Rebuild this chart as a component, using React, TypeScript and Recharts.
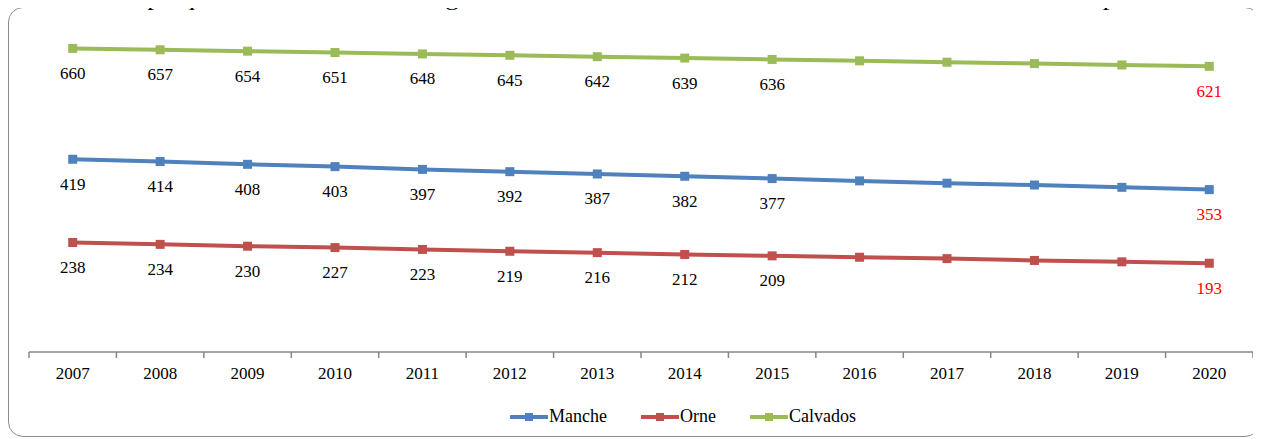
import React from "react";
import { LabelList, Legend, Line, LineChart, XAxis, YAxis } from "recharts";

const years = [
  "2007", "2008", "2009", "2010", "2011", "2012", "2013",
  "2014", "2015", "2016", "2017", "2018", "2019", "2020",
];
const manche = [419, 414, 408, 403, 397, 392, 387, 382, 377, 372, 367, 363, 358, 353];
const orne = [238, 234, 230, 227, 223, 219, 216, 212, 209, 206, 203, 199, 196, 193];
const calvados = [660, 657, 654, 651, 648, 645, 642, 639, 636, 633, 630, 627, 624, 621];

// labels only on observed years (2007-2015) and the 2020 projection
const labelledIndexes = [0, 1, 2, 3, 4, 5, 6, 7, 8, 13];
const projectionIndex = 13;

const seriesList = [
  { key: "manche", name: "Manche", color: "#4F81BD" },
  { key: "orne", name: "Orne", color: "#C0504D" },
  { key: "calvados", name: "Calvados", color: "#9BBB59" },
];

const data = years.map((year, i) => ({
  year,
  manche: manche[i],
  orne: orne[i],
  calvados: calvados[i],
}));

const WIDTH = 1261;
const HEIGHT = 439;
const margin = { top: 30, right: 8, left: 29, bottom: 57 };
const AXIS_HEIGHT = 30;
const axisY = HEIGHT - margin.bottom - AXIS_HEIGHT;
const bandWidth = (WIDTH - margin.left - margin.right) / years.length;
const font = "'Liberation Serif', 'Times New Roman', serif";
const axisColor = "#868686";

function YearTick(props: any) {
  const { x, payload, index } = props;
  return (
    <g>
      <line
        x1={x - bandWidth / 2}
        x2={x - bandWidth / 2}
        y1={axisY}
        y2={axisY + 6}
        stroke={axisColor}
        strokeWidth={1.5}
      />
      {index === years.length - 1 && (
        <line
          x1={x + bandWidth / 2}
          x2={x + bandWidth / 2}
          y1={axisY}
          y2={axisY + 6}
          stroke={axisColor}
          strokeWidth={1.5}
        />
      )}
      <text
        x={x}
        y={axisY + 21}
        textAnchor="middle"
        dominantBaseline="central"
        fontFamily={font}
        fontSize={17}
        fill="#000"
      >
        {payload.value}
      </text>
    </g>
  );
}

function squareDot(color: string) {
  return (props: any) => {
    const { cx, cy, index } = props;
    return (
      <rect
        key={`dot-${index}`}
        x={cx - 4.5}
        y={cy - 4.5}
        width={9}
        height={9}
        fill={color}
      />
    );
  };
}

function ValueLabel(props: any) {
  const { x, y, value, index } = props;
  if (!labelledIndexes.includes(index)) return null;
  return (
    <text
      x={x}
      y={y + 25}
      textAnchor="middle"
      dominantBaseline="central"
      fontFamily={font}
      fontSize={17}
      fill={index === projectionIndex ? "#FF0000" : "#000"}
    >
      {value}
    </text>
  );
}

function ChartLegend() {
  return (
    <div style={{ display: "flex", alignItems: "center", gap: 34, fontFamily: font, fontSize: 18 }}>
      {seriesList.map((s) => (
        <div key={s.key} style={{ display: "flex", alignItems: "center" }}>
          <svg width={38} height={12} style={{ marginRight: 1 }}>
            <line x1={1} x2={37} y1={6} y2={6} stroke={s.color} strokeWidth={4} strokeLinecap="round" />
            <rect x={15} y={2} width={8} height={8} fill={s.color} />
          </svg>
          <span style={{ color: "#000" }}>{s.name}</span>
        </div>
      ))}
    </div>
  );
}

export default function App() {
  return (
    <div
      style={{
        position: "relative",
        width: WIDTH,
        height: HEIGHT,
        margin: "-8px 0 0 -8px",
        overflow: "hidden",
        background: "#fff",
      }}
    >
      <svg width={WIDTH} height={12} style={{ position: "absolute", left: 0, top: 0 }}>
        <rect x={73} y={0} width={9} height={3} fill="#8080ff" />
        <text
          x={107}
          y={5}
          fontFamily={font}
          fontSize={22}
          textLength={1103}
          lengthAdjust="spacingAndGlyphs"
          fill="#000"
        >
          Graphique n° 2 : Les médecins généralistes libéraux &amp; mixtes – de l'observé à l'attendu // Département
        </text>
      </svg>
      <div
        style={{
          position: "absolute",
          left: 8,
          top: 7,
          width: 1252,
          height: 430,
          border: "1.5px solid #8c8c8c",
          borderRadius: 15,
          boxSizing: "border-box",
        }}
      />
      <div style={{ position: "absolute", left: 0, top: 0 }}>
        <LineChart width={WIDTH} height={HEIGHT} data={data} margin={margin}>
          <XAxis
            dataKey="year"
            scale="band"
            interval={0}
            height={AXIS_HEIGHT}
            tickLine={false}
            tick={<YearTick />}
            axisLine={{ stroke: axisColor, strokeWidth: 1.5 }}
          />
          <YAxis hide domain={[0, 700]} />
          <Legend
            verticalAlign="middle"
            layout="horizontal"
            content={<ChartLegend />}
            wrapperStyle={{ position: "absolute", top: 406, left: 510, width: "auto" }}
          />
          {seriesList.map((s) => (
            <Line
              key={s.key}
              type="linear"
              dataKey={s.key}
              name={s.name}
              stroke={s.color}
              strokeWidth={4}
              dot={squareDot(s.color)}
              activeDot={false}
              isAnimationActive={false}
            >
              <LabelList dataKey={s.key} content={<ValueLabel />} />
            </Line>
          ))}
        </LineChart>
      </div>
    </div>
  );
}
